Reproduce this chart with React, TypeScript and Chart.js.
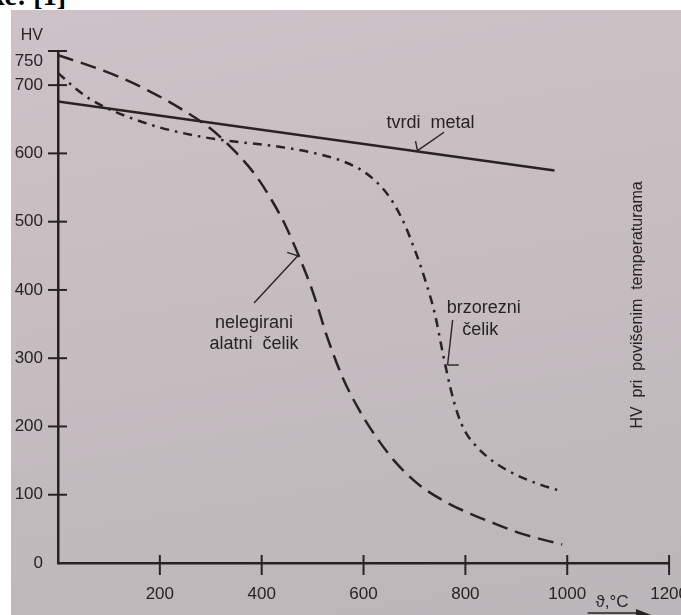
import React, { useEffect, useRef } from "react";
import { Chart, registerables } from "chart.js";

Chart.register(...registerables);

// ---- data ----
const yTickValues = [0, 100, 200, 300, 400, 500, 600, 700, 750];
const xTickValues = [200, 400, 600, 800, 1000, 1200];

const tvrdiMetalT = [0, 975];
const tvrdiMetalHV = [676, 575];

const nelegiraniT = [0, 60, 120, 180, 240, 300, 350, 390, 420, 445, 470, 500, 530, 560, 590, 620, 660, 710, 760, 810, 860, 910, 990];
const nelegiraniHV = [744, 729, 712, 691, 666, 636, 601, 566, 531, 497, 455, 398, 328, 270, 226, 190, 150, 114, 90, 72, 57, 43, 27];

const brzorezniT = [0, 30, 60, 100, 150, 200, 250, 300, 350, 400, 450, 500, 550, 590, 620, 650, 675, 700, 720, 740, 755, 770, 785, 800, 825, 860, 900, 950, 990];
const brzorezniHV = [718, 698, 681, 665, 650, 638, 629, 622, 617, 613, 608, 601, 591, 578, 562, 537, 505, 460, 417, 365, 310, 258, 218, 192, 168, 146, 129, 114, 105];

const INK = "#272325";
const SANS = "'Liberation Sans', Arial, Helvetica, sans-serif";

const toPoints = (xs: number[], ys: number[]) => xs.map((x, i) => ({ x, y: ys[i] }));

export default function App() {
  const ref = useRef<HTMLCanvasElement>(null);

  useEffect(() => {
    const canvas = ref.current;
    if (!canvas) return;

    const annotations = {
      id: "annotations",
      afterDraw(chart: any) {
        const ctx = chart.ctx as CanvasRenderingContext2D;
        const xs = chart.scales.x;
        const ys = chart.scales.y;
        const px = (t: number) => xs.getPixelForValue(t);
        const py = (v: number) => ys.getPixelForValue(v);
        const { left, bottom } = chart.chartArea;
        ctx.save();
        ctx.strokeStyle = INK;
        ctx.fillStyle = INK;

        // tick marks crossing the axes
        ctx.lineWidth = 2;
        yTickValues.filter((v) => v > 0).forEach((v) => {
          ctx.beginPath();
          ctx.moveTo(left - 10, py(v));
          ctx.lineTo(left + 9, py(v));
          ctx.stroke();
        });
        xTickValues.forEach((t) => {
          ctx.beginPath();
          ctx.moveTo(px(t), bottom - 8);
          ctx.lineTo(px(t), bottom + 12);
          ctx.stroke();
        });

        // leader lines
        const seg = (a: number[], b: number[]) => {
          ctx.beginPath();
          ctx.moveTo(px(a[0]), py(a[1]));
          ctx.lineTo(px(b[0]), py(b[1]));
          ctx.stroke();
        };
        ctx.lineWidth = 1.4;
        // tvrdi metal
        seg([758, 631], [706, 604]);
        seg([702, 618], [706, 604]);
        // nelegirani alatni čelik
        seg([385, 381], [471, 450]);
        seg([450, 455], [471, 450]);
        // brzorezni čelik
        seg([775, 356], [765, 290]);
        seg([765, 290], [787, 290]);

        // annotation texts
        ctx.font = `18px ${SANS}`;
        ctx.textBaseline = "alphabetic";
        ctx.textAlign = "left";
        ctx.fillText("tvrdi  metal", px(645), py(637));
        ctx.textAlign = "center";
        ctx.fillText("nelegirani", px(385), py(344));
        ctx.fillText("alatni  čelik", px(385), py(313));
        ctx.fillText("brzorezni", px(836), py(366));
        ctx.fillText("čelik", px(829), py(334));

        // axis captions
        ctx.font = `16px ${SANS}`;
        ctx.textAlign = "right";
        ctx.fillText("HV", left - 15, py(750) - 11);

        ctx.font = `17px ${SANS}`;
        ctx.textAlign = "center";
        ctx.fillText("ϑ,°C", px(1088), bottom + 44);
        // arrow under the x caption (cut by the photo edge)
        ctx.lineWidth = 1.5;
        ctx.beginPath();
        ctx.moveTo(px(1040), bottom + 50);
        ctx.lineTo(px(1140), bottom + 50);
        ctx.stroke();
        ctx.beginPath();
        ctx.moveTo(px(1135), bottom + 46);
        ctx.lineTo(px(1165), bottom + 52);
        ctx.lineTo(px(1135), bottom + 58);
        ctx.closePath();
        ctx.fill();

        // rotated caption on the right
        ctx.save();
        ctx.translate(px(1138), py(378));
        ctx.rotate(-Math.PI / 2);
        ctx.font = `16px ${SANS}`;
        ctx.textAlign = "center";
        ctx.textBaseline = "middle";
        ctx.fillText("HV  pri  povišenim  temperaturama", 0, 0);
        ctx.restore();

        ctx.restore();
      },
    };

    const chart = new Chart(canvas, {
      type: "line",
      data: {
        datasets: [
          {
            label: "tvrdi metal",
            data: toPoints(tvrdiMetalT, tvrdiMetalHV),
            borderColor: INK,
            borderWidth: 2.5,
            pointRadius: 0,
            tension: 0,
          },
          {
            label: "nelegirani alatni čelik",
            data: toPoints(nelegiraniT, nelegiraniHV),
            borderColor: INK,
            borderWidth: 2.5,
            borderDash: [16, 8],
            pointRadius: 0,
            cubicInterpolationMode: "monotone",
          },
          {
            label: "brzorezni čelik",
            data: toPoints(brzorezniT, brzorezniHV),
            borderColor: INK,
            borderWidth: 2.5,
            borderDash: [9, 6, 2.5, 6],
            pointRadius: 0,
            cubicInterpolationMode: "monotone",
          },
        ],
      },
      options: {
        responsive: false,
        animation: false,
        devicePixelRatio: 1,
        layout: { padding: { top: 51, right: 0, bottom: 0, left: 0 } },
        plugins: { legend: { display: false }, tooltip: { enabled: false } },
        scales: {
          x: {
            type: "linear",
            min: 0,
            max: 1200,
            grid: { display: false, drawTicks: false },
            border: { display: true, color: INK, width: 2.5 },
            ticks: {
              color: INK,
              font: { family: SANS, size: 17 },
              padding: 21,
              maxRotation: 0,
              callback: (v: any) => String(v),
            },
            afterBuildTicks: (s: any) => {
              s.ticks = xTickValues.map((v) => ({ value: v }));
            },
            afterFit: (s: any) => {
              s.height = 52;
            },
          },
          y: {
            type: "linear",
            min: 0,
            max: 750,
            grid: { display: false, drawTicks: false },
            border: { display: true, color: INK, width: 2.5 },
            ticks: {
              color: INK,
              font: { family: SANS, size: 17 },
              padding: 15,
              callback: (v: any) => (v === 750 ? ["", String(v)] : String(v)),
            },
            afterBuildTicks: (s: any) => {
              s.ticks = yTickValues.map((v) => ({ value: v }));
            },
            afterFit: (s: any) => {
              s.width = 58;
            },
          },
        },
      },
      plugins: [annotations],
    });

    return () => chart.destroy();
  }, []);

  return (
    <div
      style={{
        position: "fixed",
        left: 0,
        top: 0,
        width: 681,
        height: 615,
        overflow: "hidden",
        background: "#ffffff",
      }}
    >
      <div
        style={{
          position: "absolute",
          left: -11,
          top: -18,
          font: "bold 28px 'Liberation Serif', 'Times New Roman', serif",
          lineHeight: "28px",
          color: "#000",
          whiteSpace: "pre",
        }}
      >
        ke: [1]
      </div>
      <div
        style={{
          position: "absolute",
          left: 11,
          top: 10,
          right: 0,
          bottom: 0,
          background: "linear-gradient(170deg, #cdc2c7 0%, #c6bdc1 45%, #bbb6b9 100%)",
        }}
      />
      <canvas
        ref={ref}
        width={709}
        height={615}
        style={{ position: "absolute", left: 0, top: 0, width: 709, height: 615, display: "block" }}
      />
    </div>
  );
}
